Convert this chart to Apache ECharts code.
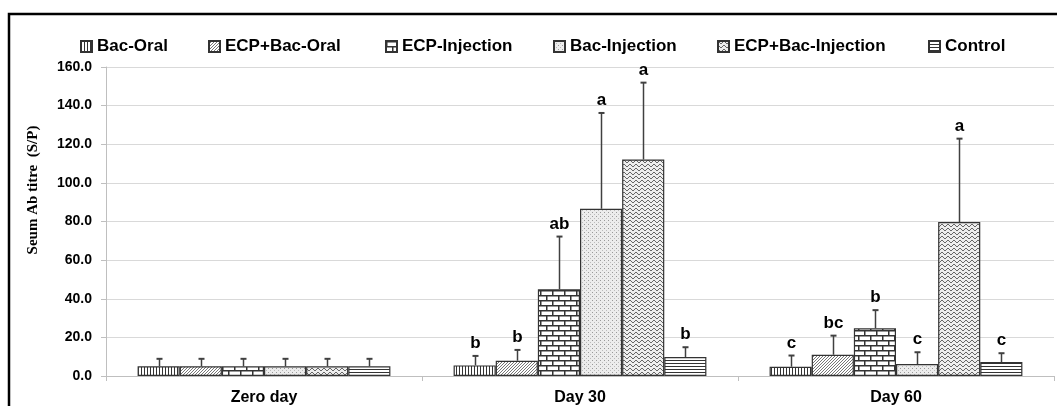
<!DOCTYPE html>
<html>
<head>
<meta charset="utf-8">
<script src="https://cdn.jsdelivr.net/npm/echarts@6/dist/echarts.min.js"></script>
<style>
  html, body { margin: 0; padding: 0; background: #fff; }
  #chart { width: 1057px; height: 406px; }
</style>
</head>
<body>
<div id="chart"></div>
<script>
// 分组 (x 轴)
const categories = ['Zero day', 'Day 30', 'Day 60'];
const seriesNames = ['Bac-Oral', 'ECP+Bac-Oral', 'ECP-Injection', 'Bac-Injection', 'ECP+Bac-Injection', 'Control'];
const yTicks = [0, 20, 40, 60, 80, 100, 120, 140, 160];

// 均值
const bacOral = [5.0, 5.5, 4.8];
const ecpBacOral = [5.0, 7.9, 11.0];
const ecpInjection = [5.0, 44.9, 24.7];
const bacInjection = [5.0, 86.6, 6.2];
const ecpBacInjection = [5.0, 112.1, 79.7];
const control = [5.0, 9.8, 7.2];

// 误差 (只画上半)
const bacOralErr = [3.9, 4.9, 5.8];
const ecpBacOralErr = [3.9, 5.6, 9.9];
const ecpInjectionErr = [3.9, 27.3, 9.4];
const bacInjectionErr = [3.9, 49.6, 6.1];
const ecpBacInjectionErr = [3.9, 39.8, 43.2];
const controlErr = [3.9, 5.1, 4.6];

// 显著性字母
const bacOralSig = ['', 'b', 'c'];
const ecpBacOralSig = ['', 'b', 'bc'];
const ecpInjectionSig = ['', 'ab', 'b'];
const bacInjectionSig = ['', 'a', 'c'];
const ecpBacInjectionSig = ['', 'a', 'a'];
const controlSig = ['', 'b', 'c'];

const values = [bacOral, ecpBacOral, ecpInjection, bacInjection, ecpBacInjection, control];
const errors = [bacOralErr, ecpBacOralErr, ecpInjectionErr, bacInjectionErr, ecpBacInjectionErr, controlErr];
const letters = [bacOralSig, ecpBacOralSig, ecpInjectionSig, bacInjectionSig, ecpBacInjectionSig, controlSig];

/** 小画布纹理 */
function makePattern(w, h, bg, draw) {
  const c = document.createElement('canvas');
  c.width = w; c.height = h;
  const ctx = c.getContext('2d');
  ctx.fillStyle = bg;
  ctx.fillRect(0, 0, w, h);
  draw(ctx);
  return { image: c, repeat: 'repeat' };
}

const patterns = [
  // 竖线
  makePattern(3, 3, '#fff', ctx => { ctx.fillStyle = '#333'; ctx.fillRect(0, 0, 1, 3); }),
  // 斜线
  makePattern(3, 3, '#fff', ctx => {
    ctx.fillStyle = '#777';
    for (let i = 0; i < 3; i++) ctx.fillRect(i, 2 - i, 1, 1);
  }),
  // 砖块
  makePattern(12, 10, '#fff', ctx => {
    ctx.fillStyle = '#333';
    ctx.fillRect(0, 0, 12, 1.5);
    ctx.fillRect(0, 5, 12, 1.5);
    ctx.fillRect(0, 0, 1.5, 5);
    ctx.fillRect(6, 5, 1.5, 5);
  }),
  // 点
  makePattern(4, 4, '#ececec', ctx => {
    ctx.fillStyle = '#999';
    ctx.fillRect(0, 0, 1, 1);
    ctx.fillStyle = '#bbb';
    ctx.fillRect(2, 2, 1, 1);
  }),
  // 波浪
  makePattern(6, 4, '#eeeeee', ctx => {
    ctx.fillStyle = '#666';
    [[0, 0], [1, 1], [2, 2], [3, 2], [4, 1], [5, 0]].forEach(p => ctx.fillRect(p[0], p[1], 1, 1));
  }),
  // 横线
  makePattern(3, 3, '#fff', ctx => { ctx.fillStyle = '#333'; ctx.fillRect(0, 0, 3, 1); })
];

const legendLeft = [75, 203, 380, 548, 712, 923];

const chart = echarts.init(document.getElementById('chart'));

const series = [];
seriesNames.forEach((name, i) => {
  series.push({
    name: name,
    type: 'bar',
    barGap: '0%',
    barCategoryGap: '20%',
    itemStyle: {
      color: patterns[i],
      borderColor: '#333',
      borderWidth: 1.2
    },
    data: values[i],
    z: 2
  });
});

// 误差线 + 字母
seriesNames.forEach((name, i) => {
  series.push({
    name: name + '-err',
    type: 'custom',
    z: 5,
    data: categories.map((c, k) => [k, values[i][k], errors[i][k]]),
    renderItem: function (params, api) {
      const k = api.value(0);
      const band = api.size([1, 0])[0];
      const bw = band * 0.8 / 6;
      const dx = -band * 0.4 + bw * (i + 0.5);
      const p0 = api.coord([k, api.value(1)]);
      const p1 = api.coord([k, api.value(1) + api.value(2)]);
      const x = Math.round(p0[0] + dx) + 0.5;
      const kids = [
        { type: 'line', shape: { x1: x, y1: p0[1], x2: x, y2: p1[1] }, style: { stroke: '#404040', lineWidth: 1.5 } },
        { type: 'line', shape: { x1: x - 3, y1: p1[1], x2: x + 3, y2: p1[1] }, style: { stroke: '#404040', lineWidth: 2 } }
      ];
      const txt = letters[i][k];
      if (txt) {
        kids.push({
          type: 'text',
          style: {
            text: txt, x: x, y: p1[1] - 4,
            align: 'center', verticalAlign: 'bottom',
            fill: '#000', font: 'bold 17px "Liberation Sans", Arial, sans-serif'
          }
        });
      }
      return { type: 'group', children: kids };
    }
  });
});

const option = {
  animation: false,
  backgroundColor: '#fff',
  textStyle: { fontFamily: '"Liberation Sans", Arial, sans-serif' },
  legend: seriesNames.map((name, i) => ({
    data: [name],
    left: legendLeft[i],
    top: 33,
    itemWidth: 11,
    itemHeight: 11,
    icon: 'rect',
    selectedMode: false,
    textStyle: { fontSize: 17, fontWeight: 'bold', color: '#000' }
  })),
  grid: { left: 106, right: 3, top: 67, bottom: 28 },
  xAxis: {
    type: 'category',
    data: categories,
    axisLine: { lineStyle: { color: '#bfbfbf', width: 1 } },
    axisTick: { show: true, length: 5, lineStyle: { color: '#bfbfbf' } },
    axisLabel: { fontSize: 16, fontWeight: 'bold', color: '#000', margin: 14 }
  },
  yAxis: {
    type: 'value',
    min: yTicks[0],
    max: yTicks[yTicks.length - 1],
    interval: yTicks[1] - yTicks[0],
    axisLine: { show: true, lineStyle: { color: '#bfbfbf' } },
    axisTick: { show: true, length: 5, lineStyle: { color: '#bfbfbf' } },
    axisLabel: {
      fontSize: 14, fontWeight: 'bold', color: '#000', margin: 14,
      formatter: v => v.toFixed(1)
    },
    splitLine: { lineStyle: { color: '#d9d9d9', width: 1.2 } }
  },
  graphic: [
    // 外框
    {
      type: 'rect',
      shape: { x: 9, y: 14, width: 1200, height: 600 },
      style: { fill: null, stroke: '#000', lineWidth: 2.5 },
      silent: true
    },
    {
      type: 'text',
      x: 33, y: 190,
      rotation: Math.PI / 2,
      style: {
        text: 'Seum Ab titre  (S/P)',
        align: 'center', verticalAlign: 'middle',
        fill: '#000',
        font: 'bold 15px "Liberation Serif", "Times New Roman", serif'
      }
    }
  ],
  series: series
};

chart.setOption(option);
</script>
</body>
</html>
